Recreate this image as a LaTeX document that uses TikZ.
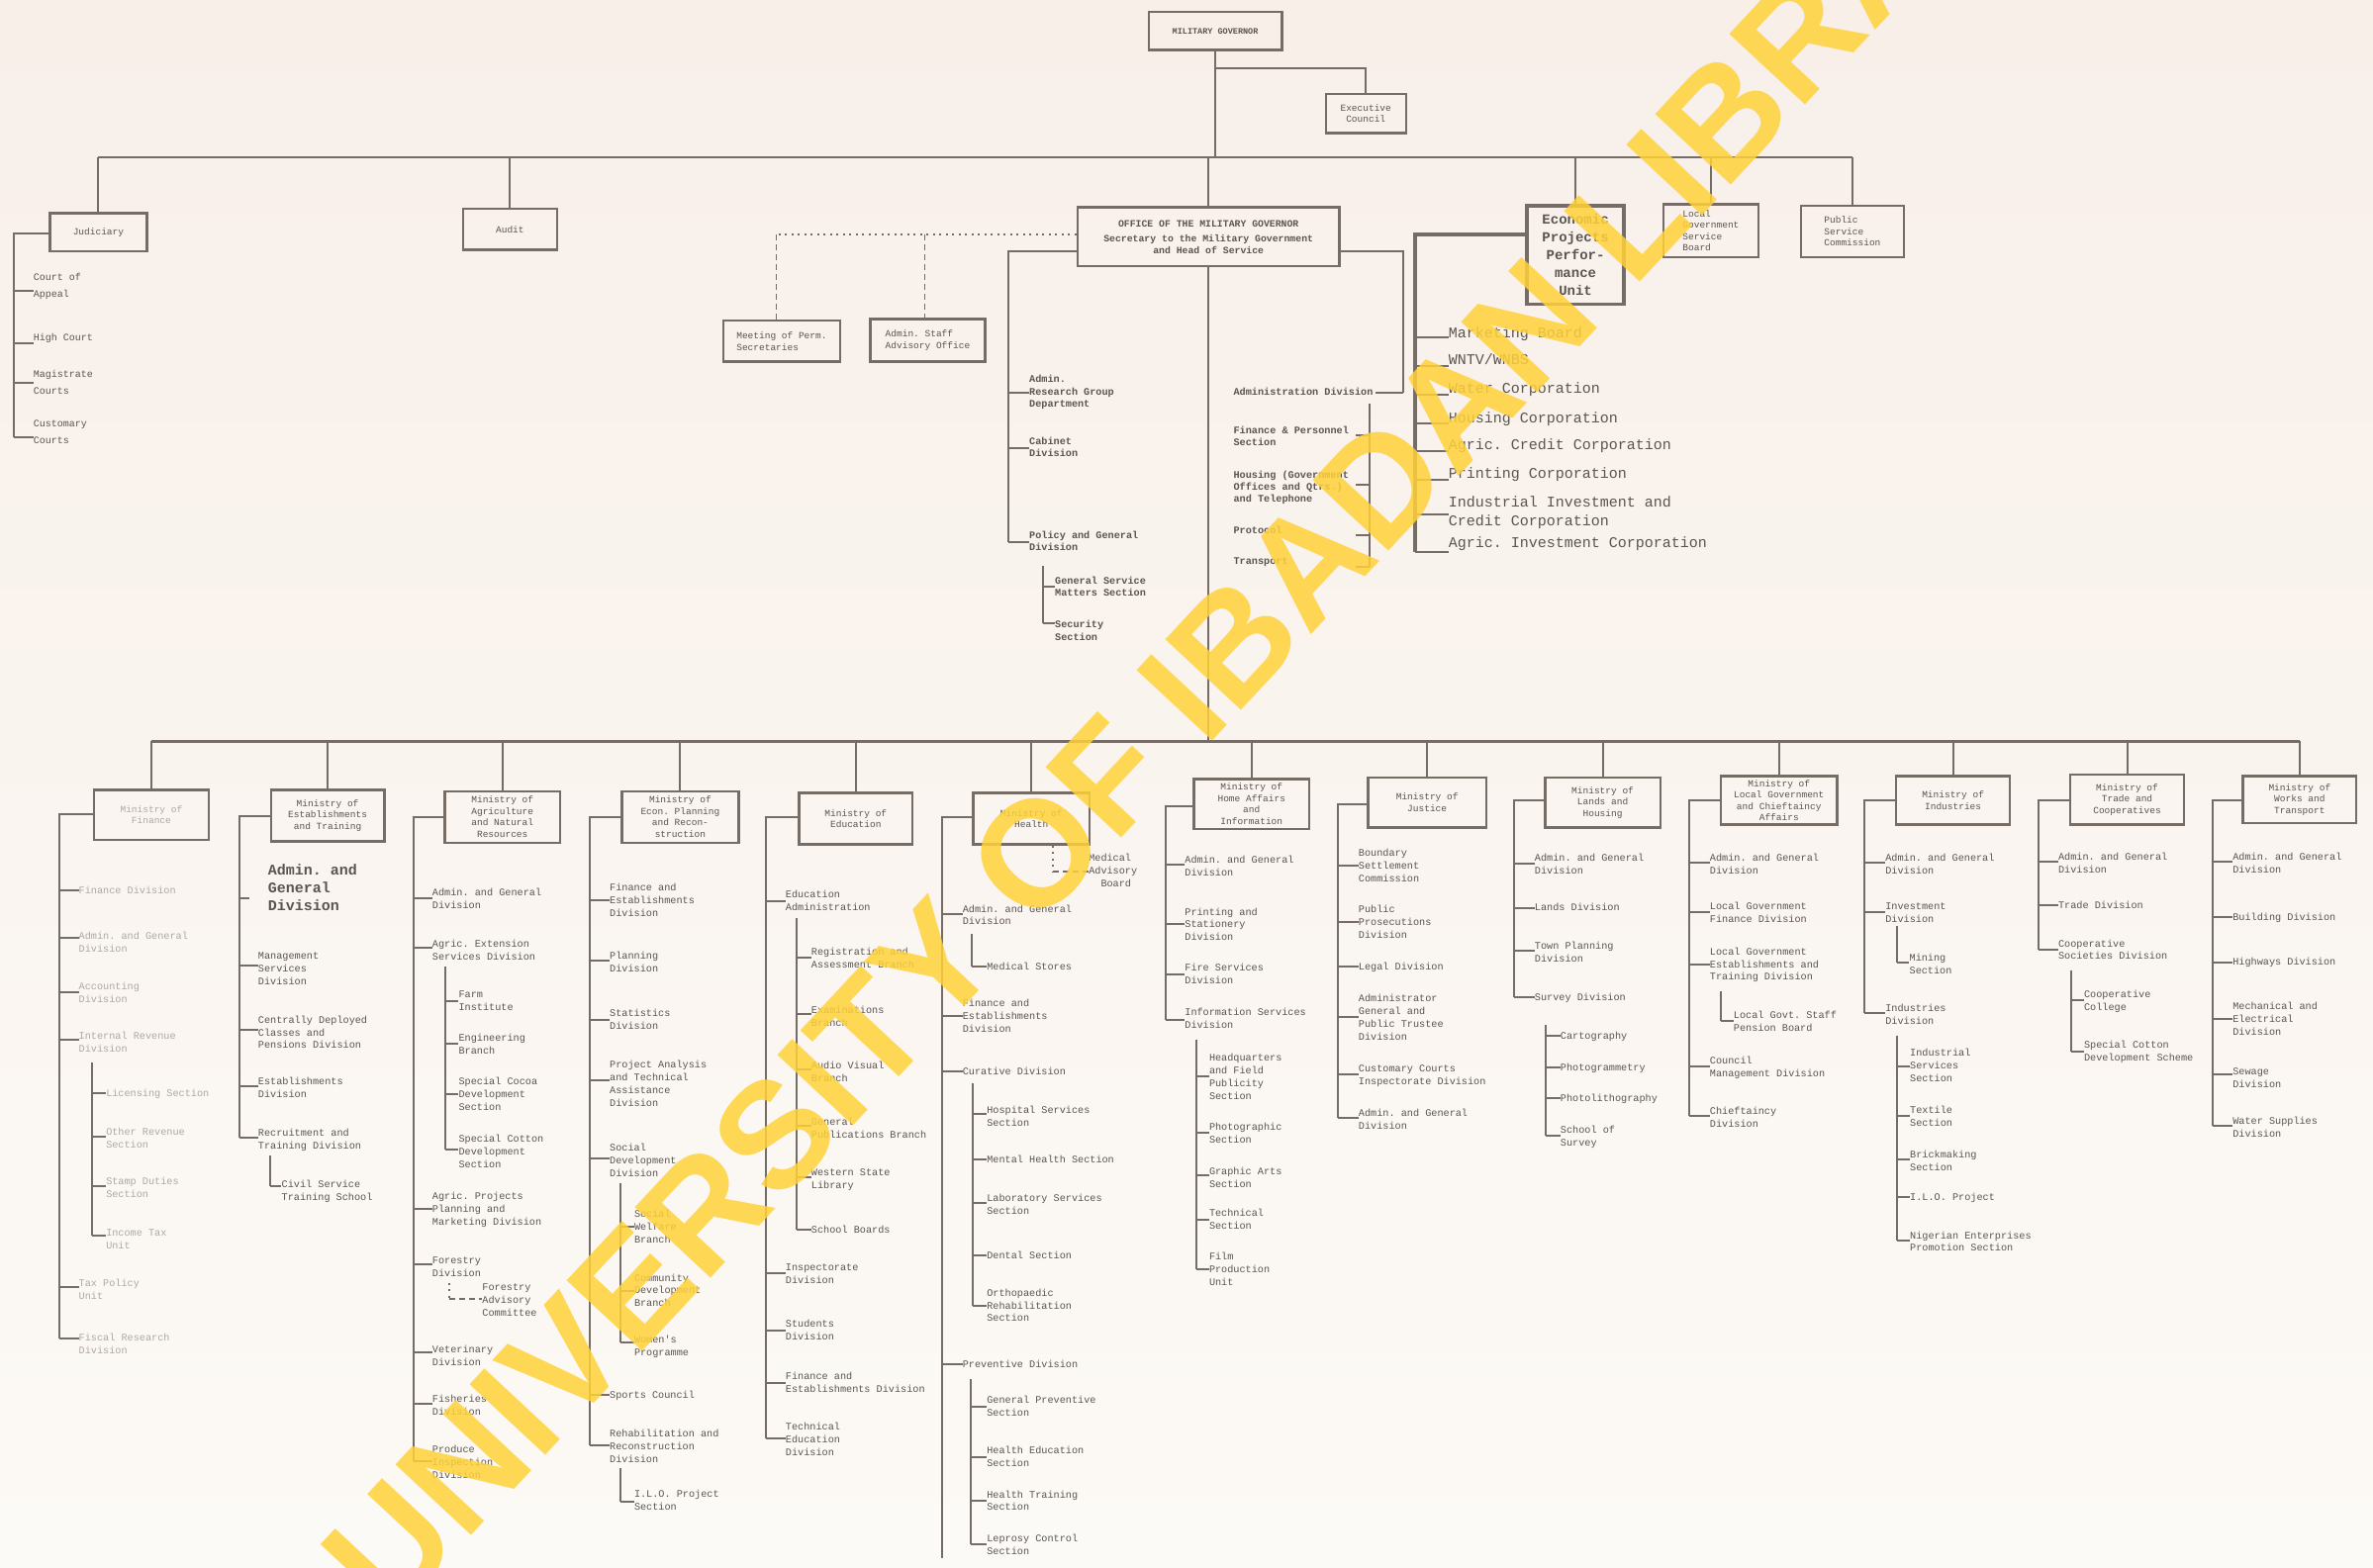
\documentclass[tikz,border=0pt]{standalone}
\usepackage{fontspec}
\setmonofont{Liberation Mono}
\newfontfamily\wmfont{Liberation Sans}
\definecolor{bgtop}{RGB}{248,239,233}
\definecolor{bgbot}{RGB}{252,250,246}
\definecolor{ink}{RGB}{118,108,102}
\definecolor{txt}{RGB}{92,84,80}
\definecolor{faint}{RGB}{175,167,162}
\definecolor{wm}{RGB}{255,210,58}
\newcommand\obox[7][]{\node[bx,minimum width={(#5-#3)*1.5293pt},minimum height={(#6-#4)*1.5293pt},#1] (#2) at ({(#3+#5)/2},{(#4+#6)/2}) {#7};}
\newcommand\ent[6]{\node[entstyle] (#1) at (#3,#4) {\strut #6};
  \coordinate (#1t) at (#2,#5);
  \draw[ln] (#1t) -- (#1.west |- #1t);}
\newcommand\entr[6]{\node[entstyle] (#1) at (#3,#4) {\strut #6};
  \coordinate (#1t) at (#2,#5);
  \draw[ln] (#1t) -- ++(-9,0);}
\newcommand\bk[5]{\coordinate (#1a) at (#3,#4); \coordinate (#1b) at (#3,#5);
  \draw[ln] (#2.west |- #1a) -- (#1a) -- (#1b);}
\newcommand\vsub[4]{\coordinate (#1a) at (#2,#3); \coordinate (#1b) at (#2,#4);
  \draw[ln] (#1a) -- (#1b);}
\begin{document}
\begin{tikzpicture}[x=1.5293pt,y=-1.5293pt,
  ln/.style={draw=ink,line width=2pt},
  thk/.style={draw=ink,line width=3.2pt},
  dots/.style={draw=ink,line width=2pt,dash pattern=on 2pt off 4.5pt},
  dsh/.style={draw=ink,line width=1.8pt,dash pattern=on 6pt off 4pt},
  bx/.style={draw=ink,line width=2.4pt,inner sep=1pt,align=center,text=txt,font=\ttfamily\fontsize{9.5}{11.5}\selectfont},
  lbl/.style={anchor=north west,inner sep=0pt,align=left,text=txt,font=\ttfamily\fontsize{10.2}{12.9}\selectfont,yshift=5.9pt},
  tlbl/.style={lbl,font=\ttfamily\bfseries\fontsize{10.2}{12.4}\selectfont},
  jlbl/.style={lbl,font=\ttfamily\fontsize{10}{16.5}\selectfont,yshift=8.2pt},
  eclbl/.style={lbl,font=\ttfamily\fontsize{15}{19}\selectfont,yshift=8.8pt},
  biglbl/.style={lbl,font=\ttfamily\bfseries\fontsize{15}{18}\selectfont,yshift=8.1pt},
  entstyle/.style={lbl}]
\shade[top color=bgtop,bottom color=bgbot] (0,0) rectangle (1568,1036);
\useasboundingbox (0,0) rectangle (1568,1036);

% ---------------- top level
\obox[font=\ttfamily\bfseries\fontsize{8.5}{10}\selectfont]{mg}{759}{8}{847}{33}{MILITARY GOVERNOR}
\obox{excl}{876}{62}{929}{88}{Executive\\Council}
\obox{jud}{33}{141}{97}{166}{Judiciary}
\obox{aud}{306}{138}{368}{165}{Audit}
\obox[font=\ttfamily\bfseries\fontsize{9.8}{12}\selectfont]{ofc}{712}{137}{885}{176}{OFFICE OF THE MILITARY GOVERNOR\\[3pt]Secretary to the Military Government\\and Head of Service}
\obox[align=left]{mps}{478}{212}{555}{239}{Meeting of Perm.\\Secretaries}
\obox[align=left]{asao}{575}{211}{651}{239}{Admin. Staff\\Advisory Office}
\obox[line width=3.4pt,font=\ttfamily\bfseries\fontsize{14}{18}\selectfont]{epu}{1009}{136}{1073}{201}{Economic\\Projects\\Perfor-\\mance\\Unit}
\obox[align=left]{lgsb}{1099}{135}{1162}{170}{Local\\Government\\Service\\Board}
\obox[align=left]{psc}{1190}{136}{1258}{170}{Public\\Service\\Commission}

\coordinate (tbL) at (65,104);
\coordinate (tbR) at (1224,104);
\draw[ln,line width=2.6pt] (tbL) -- (tbR);
\draw[ln] (mg.south) -- (mg.south |- tbL);
\coordinate (ecj) at (803,45);
\draw[ln] (ecj) -| (excl.north);
\foreach \n in {jud,aud,ofc,epu,lgsb,psc} {\draw[ln] (\n.north) -- (\n.north |- tbL);}

% Judiciary
\bk{jb}{jud}{9}{154}{289}
\tikzset{entstyle/.style={jlbl}}
\ent{ju1}{9}{22}{187}{192}{Court of\\Appeal}
\ent{ju2}{9}{22}{227}{227}{High Court}
\ent{ju3}{9}{22}{251}{253}{Magistrate\\Courts}
\ent{ju4}{9}{22}{284}{289}{Customary\\Courts}

% advisory (dotted)
\coordinate (dotL) at (513,155);
\coordinate (dotM) at (611,155);
\draw[dots] (ofc.west |- dotL) -- (dotL);
\draw[dsh] (dotL) -- (dotL |- mps.north);
\draw[dsh] (dotM) -- (dotM |- asao.north);

% Office left branch
\tikzset{entstyle/.style={tlbl}}
\bk{ol}{ofc}{666}{166}{358}
\ent{r1}{666}{680}{251}{259.7}{Admin.\\Research Group\\Department}
\ent{r2}{666}{680}{292}{296}{Cabinet\\Division}
\ent{r3}{666}{680}{354}{358}{Policy and General\\Division}
\vsub{r3s}{689}{374}{412}
\ent{r31}{689}{697}{384}{388}{General Service\\Matters Section}
\ent{r32}{689}{697}{413}{412}{Security\\Section}

% Office right branch
\coordinate (orA) at (927,166);
\coordinate (orB) at (927,259.6);
\draw[ln] (ofc.east |- orA) -- (orA) -- (orB);
\node[tlbl] (ad) at (815,259.6) {\strut Administration Division};
\draw[ln] (orB) -- ++(-18,0);
\vsub{ors}{905}{267}{374.7}
\entr{rr1}{905}{815}{284.5}{288}{Finance \& Personnel\\Section}
\entr{rr2}{905}{815}{314}{320.5}{Housing (Government\\Offices and Qtrs.)\\and Telephone}
\entr{rr3}{905}{815}{351}{354}{Protocol}
\entr{rr4}{905}{815}{371}{374.7}{Transport}

% Economic projects list
\coordinate (eca) at (935,155);
\coordinate (ecb) at (935,365);
\draw[thk] (epu.west |- eca) -- (eca) -- (ecb);
\tikzset{entstyle/.style={eclbl}}
\ent{ec1}{935}{957}{224}{223}{Marketing Board}
\ent{ec2}{935}{957}{242}{242}{WNTV/WNBS}
\ent{ec3}{935}{957}{261}{261}{Water Corporation}
\ent{ec4}{935}{957}{280}{280}{Housing Corporation}
\ent{ec5}{935}{957}{298}{298}{Agric. Credit Corporation}
\ent{ec6}{935}{957}{317}{317}{Printing Corporation}
\ent{ec7}{935}{957}{336}{340}{Industrial Investment and\\Credit Corporation}
\ent{ec8}{935}{957}{363}{365}{Agric. Investment Corporation}

% ---------------- ministries
\draw[ln] (ofc.south) -- (ofc.south |- 0,490);
\coordinate (bbL) at (100,490);
\coordinate (bbR) at (1519.5,490);
\draw[ln,line width=2.6pt] (bbL) -- (bbR);
\obox[text=faint]{mfin}{62}{522}{138}{555}{Ministry of\\Finance}
\obox{mest}{179}{522}{254}{556}{Ministry of\\Establishments\\and Training}
\obox{magr}{294}{523}{370}{557}{Ministry of\\Agriculture\\and Natural\\Resources}
\obox{mecp}{411}{523}{488}{557}{Ministry of\\Econ. Planning\\and Recon-\\struction}
\obox{medu}{528}{524}{603}{558}{Ministry of\\Education}
\obox{mhea}{643}{524}{720}{558}{Ministry of\\Health}
\obox{mhom}{789}{515}{865}{548}{Ministry of\\Home Affairs\\and\\Information}
\obox{mjus}{904}{514}{982}{547}{Ministry of\\Justice}
\obox{mlan}{1021}{514}{1097}{547}{Ministry of\\Lands and\\Housing}
\obox{mloc}{1137}{513}{1214}{545}{Ministry of\\Local Government\\and Chieftaincy\\Affairs}
\obox{mind}{1253}{513}{1328}{545}{Ministry of\\Industries}
\obox{mtra}{1368}{512}{1443}{545}{Ministry of\\Trade and\\Cooperatives}
\obox{mwor}{1482}{513}{1557}{544}{Ministry of\\Works and\\Transport}
\foreach \n in {mfin,mest,magr,mecp,medu,mhea,mhom,mjus,mlan,mloc,mind,mtra,mwor} {\draw[ln] (\n.north) -- (\n.north |- bbL);}

% Finance
\tikzset{entstyle/.style={lbl,text=faint}}
\bk{fb}{mfin}{39}{538}{885}
\ent{f1}{39}{52}{588.6}{588.6}{Finance Division}
\ent{f2}{39}{52}{618.6}{620}{Admin. and General\\Division}
\ent{f3}{39}{52}{652}{656}{Accounting\\Division}
\ent{f4}{39}{52}{685}{687}{Internal Revenue\\Division}
\vsub{f4s}{61}{702}{817}
\ent{f41}{61}{70}{722.6}{722.6}{Licensing Section}
\ent{f42}{61}{70}{748}{751}{Other Revenue\\Section}
\ent{f43}{61}{70}{781}{784}{Stamp Duties\\Section}
\ent{f44}{61}{70}{815}{817}{Income Tax\\Unit}
\ent{f5}{39}{52}{848}{851}{Tax Policy\\Unit}
\ent{f6}{39}{52}{884}{885}{Fiscal Research\\Division}

% Establishments
\tikzset{entstyle/.style={lbl}}
\bk{eb}{mest}{158}{539.5}{752}
\node[biglbl] (e1) at (177,579) {\strut Admin. and\\General\\Division};
\coordinate (e1t) at (158,593.7);
\draw[ln] (e1t) -- ++(7,0);
\ent{e2}{158}{170.5}{632}{638.5}{Management\\Services\\Division}
\ent{e3}{158}{170.5}{674}{680.7}{Centrally Deployed\\Classes and\\Pensions Division}
\ent{e4}{158}{170.5}{715}{718}{Establishments\\Division}
\ent{e5}{158}{170.5}{748.7}{752}{Recruitment and\\Training Division}
\vsub{e5s}{178.3}{764}{784}
\ent{e51}{178.3}{186}{783}{784}{Civil Service\\Training School}

% Agriculture
\bk{ab}{magr}{273.5}{540}{966}
\ent{a1}{273.5}{285.6}{590}{593.7}{Admin. and General\\Division}
\ent{a2}{273.5}{285.6}{624}{626.5}{Agric. Extension\\Services Division}
\vsub{a2s}{294.3}{639}{760}
\ent{a21}{294.3}{303}{657}{661.6}{Farm\\Institute}
\ent{a22}{294.3}{303}{686}{690}{Engineering\\Branch}
\ent{a23}{294.3}{303}{715}{723}{Special Cocoa\\Development\\Section}
\ent{a24}{294.3}{303}{753}{760}{Special Cotton\\Development\\Section}
\ent{a3}{273.5}{285.6}{790.7}{799}{Agric. Projects\\Planning and\\Marketing Division}
\ent{a4}{273.5}{285.6}{833.4}{835.7}{Forestry\\Division}
\node[lbl] (a41) at (318.6,851) {\strut Forestry\\Advisory\\Committee};
\coordinate (a41t) at (297,848);
\coordinate (a41u) at (297,858.6);
\draw[dots] (a41t) -- (a41u);
\draw[dsh] (a41u) -- (a41.west |- a41u);
\ent{a5}{273.5}{285.6}{892}{894}{Veterinary\\Division}
\ent{a6}{273.5}{285.6}{924.6}{928}{Fisheries\\Division}
\ent{a7}{273.5}{285.6}{958}{966}{Produce\\Inspection\\Division}

% Economic Planning
\bk{pb}{mecp}{389.7}{540}{955.5}
\ent{p1}{389.7}{402.8}{586.6}{595}{Finance and\\Establishments\\Division}
\ent{p2}{389.7}{402.8}{632}{635}{Planning\\Division}
\ent{p3}{389.7}{402.8}{669.6}{674}{Statistics\\Division}
\ent{p4}{389.7}{402.8}{703.6}{714}{Project Analysis\\and Technical\\Assistance\\Division}
\ent{p5}{389.7}{402.8}{758.6}{766}{Social\\Development\\Division}
\vsub{p5s}{410}{782}{887}
\ent{p51}{410}{419}{802.5}{811}{Social\\Welfare\\Branch}
\ent{p52}{410}{419}{844.6}{853}{Community\\Development\\Branch}
\ent{p53}{410}{419}{885.7}{887}{Women's\\Programme}
\ent{p6}{389.7}{402.8}{922}{922}{Sports Council}
\ent{p7}{389.7}{402.8}{947.5}{955.5}{Rehabilitation and\\Reconstruction\\Division}
\vsub{p7s}{410}{970.6}{992.4}
\ent{p71}{410}{419}{987.7}{992.4}{I.L.O. Project\\Section}

% Education
\bk{db}{medu}{506}{540}{951}
\ent{d1}{506}{519}{591}{595.4}{Education\\Administration}
\vsub{d1s}{526.4}{607}{813}
\ent{d11}{526.4}{536}{629}{632.7}{Registration and\\Assessment Branch}
\ent{d12}{526.4}{536}{667.6}{670.4}{Examinations\\Branch}
\ent{d13}{526.4}{536}{704.6}{707}{Audio Visual\\Branch}
\ent{d14}{526.4}{536}{741.8}{744.4}{General\\Publications Branch}
\ent{d15}{526.4}{536}{775}{777.8}{Western State\\Library}
\ent{d16}{526.4}{536}{813}{813}{School Boards}
\ent{d2}{506}{519}{837.6}{841.7}{Inspectorate\\Division}
\ent{d3}{506}{519}{875}{879.5}{Students\\Division}
\ent{d4}{506}{519}{909.6}{914}{Finance and\\Establishments Division}
\ent{d5}{506}{519}{943}{951}{Technical\\Education\\Division}

% Health
\bk{hb}{mhea}{622.3}{540}{1030}
\node[lbl] (mab) at (719.3,567.3) {\strut Medical\\Advisory\\\hspace*{1.2em}Board};
\coordinate (mabB) at (695.7,576);
\draw[dots] (mhea.south -| mabB) -- (mabB);
\draw[dsh] (mabB) -- (mab.west |- mabB);
\ent{h1}{622.3}{636}{600.7}{604}{Admin. and General\\Division}
\vsub{h1s}{642}{617}{638.7}
\ent{h11}{642}{652}{638.7}{638.7}{Medical Stores}
\ent{h2}{622.3}{636}{663.4}{671.5}{Finance and\\Establishments\\Division}
\ent{h3}{622.3}{636}{708.4}{708.4}{Curative Division}
\vsub{h3s}{642.5}{716}{863}
\ent{h31}{642.5}{652}{733.7}{736}{Hospital Services\\Section}
\ent{h32}{642.5}{652}{766.5}{766.5}{Mental Health Section}
\ent{h33}{642.5}{652}{791.9}{795}{Laboratory Services\\Section}
\ent{h34}{642.5}{652}{830}{830}{Dental Section}
\ent{h35}{642.5}{652}{854.5}{863}{Orthopaedic\\Rehabilitation\\Section}
\ent{h4}{622.3}{636}{901.7}{901.7}{Preventive Division}
\vsub{h4s}{641.5}{911.5}{1021}
\ent{h41}{641.5}{652}{925.6}{930}{General Preventive\\Section}
\ent{h42}{641.5}{652}{959}{963}{Health Education\\Section}
\ent{h43}{641.5}{652}{987.8}{992}{Health Training\\Section}
\ent{h44}{641.5}{652}{1017}{1020.7}{Leprosy Control\\Section}

% Home Affairs
\bk{ob}{mhom}{770}{533}{674}
\ent{o1}{770}{782.8}{568.3}{571.7}{Admin. and General\\Division}
\ent{o2}{770}{782.8}{602.7}{611}{Printing and\\Stationery\\Division}
\ent{o3}{770}{782.8}{639.8}{644}{Fire Services\\Division}
\ent{o4}{770}{782.8}{669.3}{674}{Information Services\\Division}
\vsub{o4s}{790.8}{687}{838.6}
\ent{o41}{790.8}{798.9}{699.3}{711.6}{Headquarters\\and Field\\Publicity\\Section}
\ent{o42}{790.8}{798.9}{745}{749}{Photographic\\Section}
\ent{o43}{790.8}{798.9}{774.2}{777}{Graphic Arts\\Section}
\ent{o44}{790.8}{798.9}{802}{806}{Technical\\Section}
\ent{o45}{790.8}{798.9}{830.5}{838.6}{Film\\Production\\Unit}

% Justice
\bk{jb2}{mjus}{884.3}{531.4}{739}
\ent{j1}{884.3}{897.6}{563.7}{572}{Boundary\\Settlement\\Commission}
\ent{j2}{884.3}{897.6}{601}{609.5}{Public\\Prosecutions\\Division}
\ent{j3}{884.3}{897.6}{638.7}{638.7}{Legal Division}
\ent{j4}{884.3}{897.6}{659.8}{672.3}{Administrator\\General and\\Public Trustee\\Division}
\ent{j5}{884.3}{897.6}{706.2}{710.4}{Customary Courts\\Inspectorate Division}
\ent{j6}{884.3}{897.6}{735.5}{739}{Admin. and General\\Division}

% Lands
\bk{lb}{mlan}{1000.5}{529}{659}
\ent{l1}{1000.5}{1014}{567}{571}{Admin. and General\\Division}
\ent{l2}{1000.5}{1014}{600}{600}{Lands Division}
\ent{l3}{1000.5}{1014}{625.4}{628.6}{Town Planning\\Division}
\ent{l4}{1000.5}{1014}{659}{659}{Survey Division}
\vsub{l4s}{1021.2}{677.4}{750.7}
\ent{l41}{1021.2}{1031}{684.5}{684.5}{Cartography}
\ent{l42}{1021.2}{1031}{705.6}{705.6}{Photogrammetry}
\ent{l43}{1021.2}{1031}{726}{726}{Photolithography}
\ent{l44}{1021.2}{1031}{746.8}{750.7}{School of\\Survey}

% Local Government
\bk{gb}{mloc}{1116}{529}{737.3}
\ent{g1}{1116}{1129.7}{567}{570}{Admin. and General\\Division}
\ent{g2}{1116}{1129.7}{599.3}{602.7}{Local Government\\Finance Division}
\ent{g3}{1116}{1129.7}{628.9}{637.7}{Local Government\\Establishments and\\Training Division}
\vsub{g3s}{1137.3}{655.3}{675}
\ent{g31}{1137.3}{1145.4}{671}{675}{Local Govt. Staff\\Pension Board}
\ent{g4}{1116}{1129.7}{701}{704.8}{Council\\Management Division}
\ent{g5}{1116}{1129.7}{734.3}{737.3}{Chieftaincy\\Division}

% Industries
\bk{ib}{mind}{1232.2}{529}{669.3}
\ent{i1}{1232.2}{1245.7}{567}{570}{Admin. and General\\Division}
\ent{i2}{1232.2}{1245.7}{599}{602.7}{Investment\\Division}
\vsub{i2s}{1253.3}{612.3}{635.9}
\ent{i21}{1253.3}{1261.6}{632.8}{635.9}{Mining\\Section}
\ent{i3}{1232.2}{1245.7}{666.2}{669.3}{Industries\\Division}
\vsub{i3s}{1253.3}{684.5}{820}
\ent{i31}{1253.3}{1262}{696}{705}{Industrial\\Services\\Section}
\ent{i32}{1253.3}{1262}{733.7}{737.3}{Textile\\Section}
\ent{i33}{1253.3}{1262}{763}{766.5}{Brickmaking\\Section}
\ent{i34}{1253.3}{1262}{791.2}{791.2}{I.L.O. Project}
\ent{i35}{1253.3}{1262}{816.5}{820}{Nigerian Enterprises\\Promotion Section}

% Trade
\bk{tb}{mtra}{1347}{529}{627.5}
\ent{t1}{1347}{1360}{566.6}{569.5}{Admin. and General\\Division}
\ent{t2}{1347}{1360}{598.3}{598.3}{Trade Division}
\ent{t3}{1347}{1360}{623.6}{627.5}{Cooperative\\Societies Division}
\vsub{t3s}{1368.4}{641.2}{695}
\ent{t31}{1368.4}{1377}{657}{660.8}{Cooperative\\College}
\ent{t32}{1368.4}{1377}{690.8}{695}{Special Cotton\\Development Scheme}

% Works
\bk{wb}{mwor}{1462.1}{529}{744.3}
\ent{w1}{1462.1}{1475.2}{566.6}{569.5}{Admin. and General\\Division}
\ent{w2}{1462.1}{1475.2}{606.4}{606.4}{Building Division}
\ent{w3}{1462.1}{1475.2}{635.9}{635.9}{Highways Division}
\ent{w4}{1462.1}{1475.2}{665}{673.6}{Mechanical and\\Electrical\\Division}
\ent{w5}{1462.1}{1475.2}{708}{710.4}{Sewage\\Division}
\ent{w6}{1462.1}{1475.2}{740.8}{744.3}{Water Supplies\\Division}

% watermark
\node[anchor=base west,rotate=47,inner sep=0pt,text=wm,opacity=0.85,font=\wmfont\bfseries\fontsize{152}{152}\selectfont] (wmk) at (258,1072) {UNIVERSITY OF IBADAN LIBRARY};
\end{tikzpicture}
\end{document}
